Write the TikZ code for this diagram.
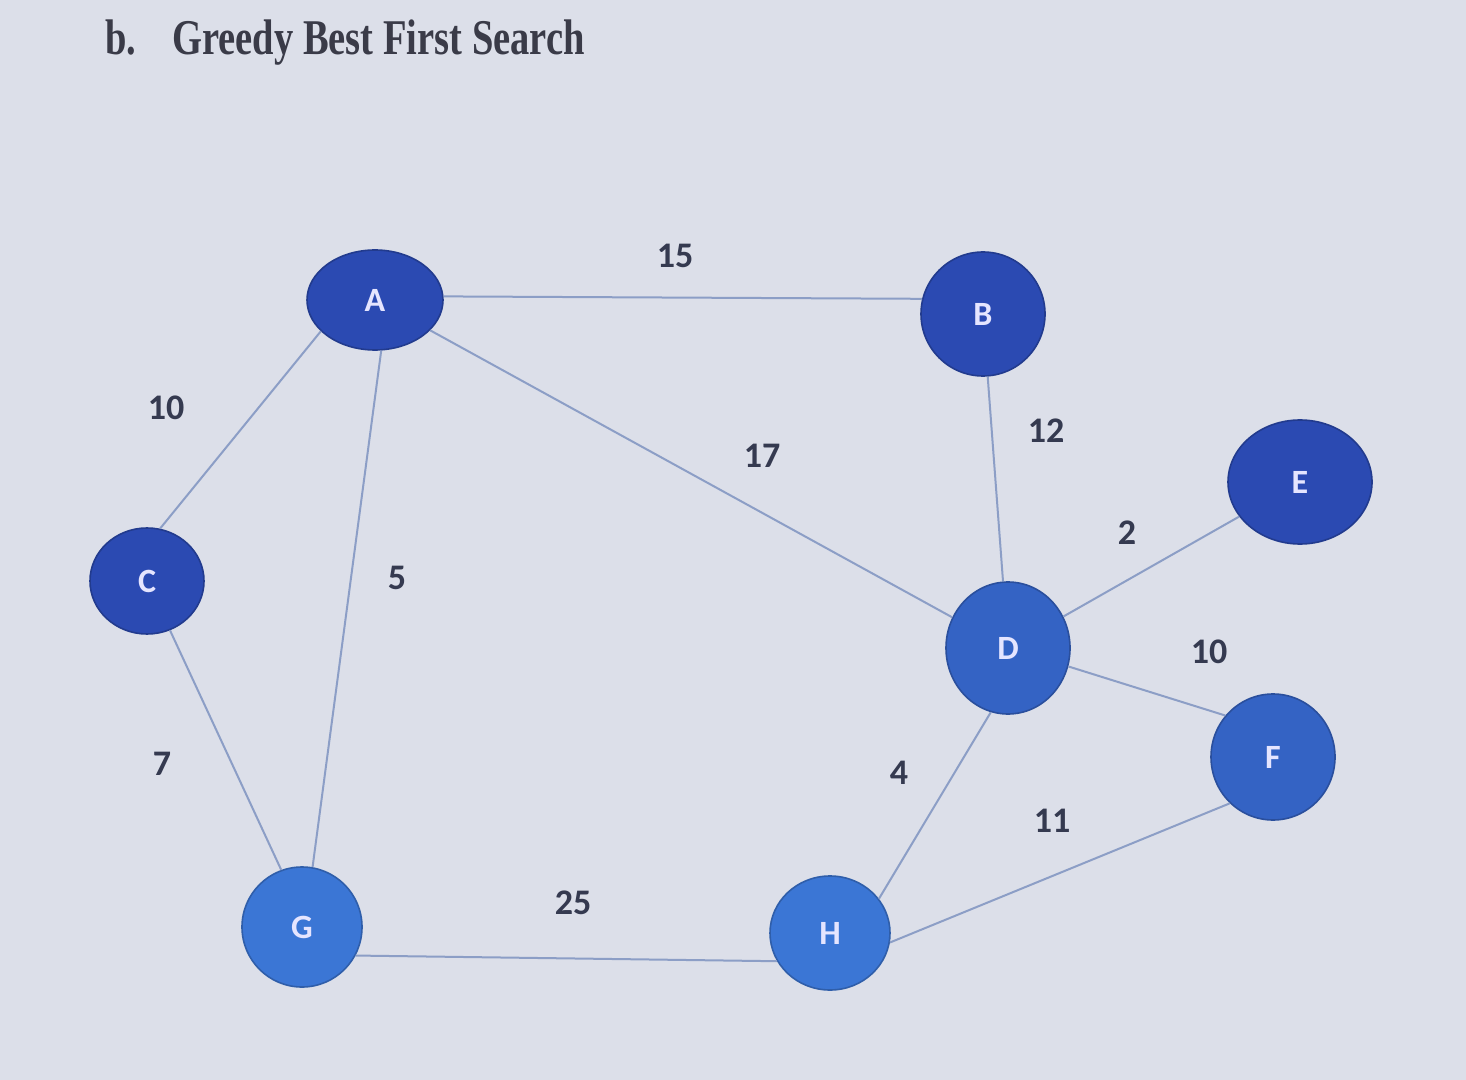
\documentclass[tikz,border=0pt]{standalone}
\usepackage{fontspec}
\setmainfont{Liberation Serif}
\newfontfamily\lblfont{Carlito}
\usetikzlibrary{shapes.geometric}
\definecolor{bg}{HTML}{DCDFE9}
\definecolor{navy}{HTML}{2B4AB2}
\definecolor{mid}{HTML}{3463C4}
\definecolor{light}{HTML}{3B76D5}
\definecolor{edgec}{HTML}{8C9EC6}
\definecolor{txt}{HTML}{353A50}
\definecolor{ttl}{HTML}{3A3B48}
\begin{document}
\begin{tikzpicture}[x=0.5pt,y=-0.5pt,
  vert/.style={ellipse,inner sep=0pt,draw=#1!80!black,line width=0.8pt,fill=#1,
    text=white!90!blue,font=\lblfont\bfseries\fontsize{17}{17}\selectfont},
  conn/.style={draw=edgec,line width=1pt},
  wlabel/.style={text=txt,font=\lblfont\bfseries\fontsize{18}{18}\selectfont,inner sep=0pt}]
\fill[bg] (0,0) rectangle (1466,1080);
\useasboundingbox (0,0) rectangle (1466,1080);
% title
\node[anchor=base west,inner sep=0pt,text=ttl,font=\bfseries\fontsize{25}{25}\selectfont] (tb) at (105,55) {\scalebox{0.77}[1]{b.}};
\node[anchor=base west,inner sep=0pt,text=ttl,font=\bfseries\fontsize{25}{25}\selectfont] (tt) at (172,55) {\scalebox{0.77}[1]{Greedy Best First Search}};
% nodes (sizes in pt = px/2)
\node[vert=navy,minimum width=68pt,minimum height=50pt] (A) at (375,300) {A};
\node[vert=navy,minimum width=62pt,minimum height=62pt] (B) at (983,314) {B};
\node[vert=navy,minimum width=72pt,minimum height=62pt] (E) at (1300,482) {E};
\node[vert=navy,minimum width=57pt,minimum height=53pt] (C) at (147,581) {C};
\node[vert=mid,minimum width=62pt,minimum height=66pt] (D) at (1008,648) {D};
\node[vert=mid,minimum width=62pt,minimum height=63pt] (F) at (1273,757) {F};
\node[vert=light,minimum width=60pt,minimum height=60pt] (G) at (302,927) {G};
\node[vert=light,minimum width=60pt,minimum height=57pt] (H) at (830,933) {H};
% edges
\draw[conn] (A.3) -- (B.166);
\draw[conn] (A.210) -- (C.76);
\draw[conn] (A.-83) -- (G.80);
\draw[conn] (A) -- (D);
\draw[conn] (B) -- (D);
\draw[conn] (D) -- (E);
\draw[conn] (D.-17) -- (F.139);
\draw[conn] (D.255) -- (H.35);
\draw[conn] (C.-65) -- (G.110);
\draw[conn] (G.-28) -- (H.208);
\draw[conn] (H.-9) -- (F.227);
% weights
\node[wlabel] (w1) at (675,256) {15};
\node[wlabel] (w2) at (166,408) {10};
\node[wlabel] (w3) at (762,456) {17};
\node[wlabel] (w4) at (1046,431) {12};
\node[wlabel] (w5) at (1127,533) {2};
\node[wlabel] (w6) at (397,578) {5};
\node[wlabel] (w7) at (1209,652) {10};
\node[wlabel] (w8) at (162,764) {7};
\node[wlabel] (w9) at (899,773) {4};
\node[wlabel] (w10) at (1052,821) {11};
\node[wlabel] (w11) at (573,903) {25};
\end{tikzpicture}
\end{document}
